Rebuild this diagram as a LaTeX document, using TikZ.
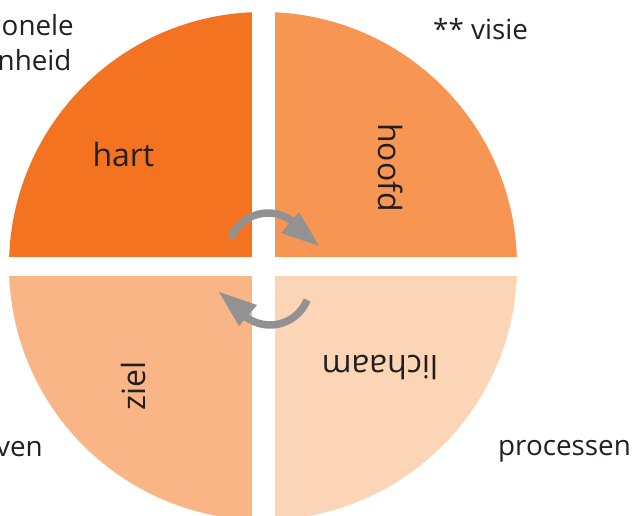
\documentclass[tikz,border=0pt]{standalone}
\usepackage{fontspec}
\setmainfont{Open Sans}
\usetikzlibrary{arrows.meta}
\definecolor{qA}{RGB}{243,115,33}
\definecolor{qB}{RGB}{247,150,83}
\definecolor{qC}{RGB}{249,181,133}
\definecolor{qD}{RGB}{252,213,183}
\definecolor{txt}{RGB}{35,31,32}
\definecolor{arr}{RGB}{146,146,146}
\tikzset{
  lbl/.style={font=\fontsize{32}{38}\selectfont, text=txt, inner sep=0pt},
  outer/.style={font=\fontsize{27.8}{33}\selectfont, text=txt, inner sep=0pt},
  rotarrow/.style={draw=arr, line width=7.5pt},
  headfill/.style={fill=arr}
}
\begin{document}
\begin{tikzpicture}[x=1pt,y=1pt]
\useasboundingbox (0,0) rectangle (634,-516);
\clip (0,0) rectangle (634,-516);
\coordinate (c) at (263,-266);
% quadrants
\fill[qA] (c) -- ++(180:254) arc[start angle=180,end angle=90,radius=254] -- cycle;
\fill[qB] (c) -- ++(90:254) arc[start angle=90,end angle=0,radius=254] -- cycle;
\fill[qD] (c) -- ++(0:254) arc[start angle=0,end angle=-90,radius=254] -- cycle;
\fill[qC] (c) -- ++(-90:254) arc[start angle=-90,end angle=-180,radius=254] -- cycle;
% white gaps
\fill[white] (252,5) rectangle (275,-530);
\fill[white] (-5,-257) rectangle (640,-276);
% inner labels
\node[lbl, anchor=base] (hart) at (123.4,-166.7) {hart};
\node[lbl, rotate=-90, anchor=base] (hoofd) at (378,-167.5) {hoofd};
\node[lbl, rotate=180, anchor=base] (lichaam) at (380,-355) {lichaam};
\node[lbl, rotate=90, anchor=base] (ziel) at (145,-386) {ziel};
% outer labels
\node[outer, anchor=base east] (onele) at (74,-35.7) {onele};
\node[outer, anchor=base east] (nheid) at (71.7,-70.7) {nheid};
\node[outer, anchor=base west] (visie) at (433,-39.3) {** visie};
\node[outer, anchor=base east] (ven) at (43,-456) {ven};
\node[outer, anchor=base west] (processen) at (498,-455) {processen};
% rotation arrows
\begin{scope}
  \draw[rotarrow] (268,-253) ++(158:40) arc[start angle=158,end angle=48,radius=40];
  \fill[headfill] (299,-212) -- (319,-246) -- (281,-233) -- cycle;
\end{scope}
\begin{scope}[rotate around={180:(269,-269)}]
  \draw[rotarrow] (268,-253) ++(158:40) arc[start angle=158,end angle=48,radius=40];
  \fill[headfill] (299,-212) -- (319,-246) -- (281,-233) -- cycle;
\end{scope}
\end{tikzpicture}
\end{document}
